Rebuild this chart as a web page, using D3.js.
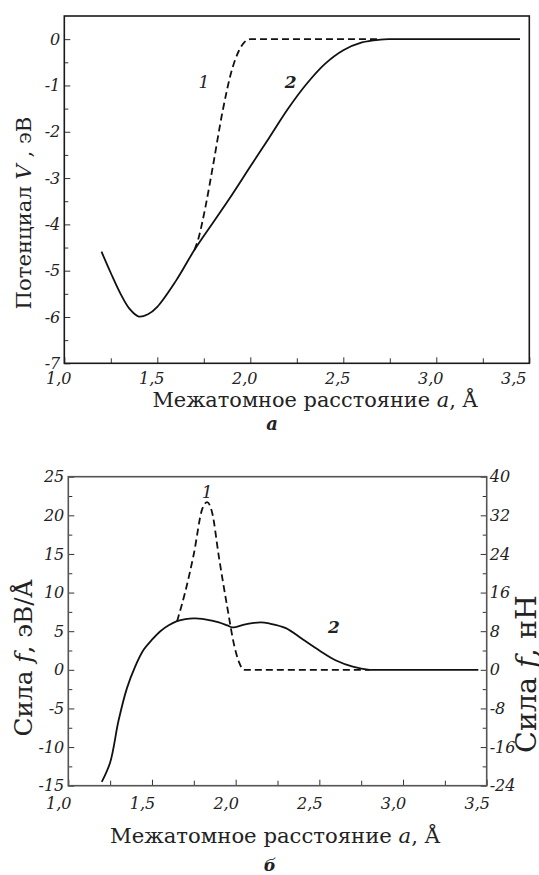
<!DOCTYPE html>
<html>
<head>
<meta charset="utf-8">
<script src="https://cdn.jsdelivr.net/npm/d3@7"></script>
<style>
  body { margin: 0; background: #fff; }
  svg { display: block; }
  text { font-family: "DejaVu Serif", "Liberation Serif", serif; }
  .tick text { font-family: "DejaVu Serif", serif; font-style: italic; font-size: 16px; fill: #222; }
  .tick line { stroke: #333; }
  .title { font-size: 18px; fill: #222; }
</style>
</head>
<body>
<svg id="chart" width="539" height="875"></svg>
<script>
// --- chart a: potential V(a)
const topA2 = [1.2, 1.25, 1.3, 1.35, 1.4, 1.45, 1.5, 1.6, 1.7, 1.8, 1.9, 2.0, 2.1, 2.2, 2.3, 2.4, 2.5, 2.6, 2.7, 2.75, 2.8, 3.0, 3.45];
const topV2 = [-4.59, -5.05, -5.48, -5.82, -5.99, -5.94, -5.78, -5.22, -4.55, -3.96, -3.37, -2.75, -2.14, -1.52, -0.98, -0.54, -0.24, -0.07, -0.01, 0, 0, 0, 0];
const topA1 = [1.7, 1.72, 1.76, 1.8, 1.85, 1.9, 1.94, 1.97, 2.0, 2.7];
const topV1 = [-4.55, -4.32, -3.6, -2.72, -1.58, -0.68, -0.24, -0.06, 0, 0];

// --- chart б: force f(a)
const botA2 = [1.2, 1.25, 1.3, 1.35, 1.4, 1.45, 1.5, 1.55, 1.6, 1.65, 1.7, 1.75, 1.8, 1.85, 1.9, 1.95, 1.98, 2.05, 2.1, 2.15, 2.2, 2.3, 2.4, 2.5, 2.6, 2.7, 2.8, 2.85, 3.45];
const botF2 = [-14.5, -12.0, -6.6, -2.4, 0.46, 2.6, 3.9, 5.0, 5.77, 6.3, 6.55, 6.65, 6.6, 6.4, 6.15, 5.75, 5.5, 5.85, 6.05, 6.15, 6.0, 5.4, 3.95, 2.5, 1.2, 0.4, 0, 0, 0];
const botA1 = [1.65, 1.7, 1.75, 1.8, 1.83, 1.86, 1.9, 1.95, 1.99, 2.02, 2.05, 2.8];
const botF1 = [6.3, 10.2, 15.0, 20.8, 21.7, 20.3, 14.6, 8.1, 3.3, 1.0, 0, 0];

const xTicks = [1.0, 1.5, 2.0, 2.5, 3.0, 3.5];
const xMinor = [1.25, 1.75, 2.25, 2.75, 3.25];
const topYTicks = [-7, -6, -5, -4, -3, -2, -1, 0];
const botYTicks = [-15, -10, -5, 0, 5, 10, 15, 20, 25];
const botY2Ticks = [-24, -16, -8, 0, 8, 16, 24, 32, 40];

const svg = d3.select('#chart');
const fmt = d => d3.format('.1f')(d).replace('.', ',');
const fmtInt = d => String(d);

function zip(a, b) { return a.map((v, i) => [v, b[i]]); }

function frame(g, w, h, color) {
  g.append('rect')
    .attr('width', w).attr('height', h)
    .attr('fill', 'none').attr('stroke', color).attr('stroke-width', 1.6);
}

function curve(g, x, y, pts, dashed) {
  const line = d3.line().x(d => x(d[0])).y(d => y(d[1]))
    .curve(dashed ? d3.curveMonotoneX : d3.curveCatmullRom.alpha(0.5));
  g.append('path')
    .datum(pts)
    .attr('d', line)
    .attr('fill', 'none')
    .attr('stroke', '#111')
    .attr('stroke-width', 1.8)
    .attr('stroke-dasharray', dashed ? '7,4' : null);
}

function addAxis(g, axis, transform) {
  const a = g.append('g').attr('transform', transform || null).call(axis);
  a.select('.domain').remove();
  return a;
}

// scale font so the text spans the width seen in the reference
function fit(sel, target) {
  const w = sel.node().getComputedTextLength();
  const fs = parseFloat(getComputedStyle(sel.node()).fontSize);
  sel.style('font-size', (fs * target / w).toFixed(2) + 'px');
}

function numLabel(g, x, y, txt, bold) {
  g.append('text').attr('x', x).attr('y', y)
    .attr('text-anchor', 'middle')
    .attr('font-style', 'italic').attr('font-size', 17).attr('fill', '#222')
    .attr('font-weight', bold ? 'bold' : null)
    .text(txt);
}

// ===== Chart a =====
{
  const left = 64.3, top = 16, width = 465, height = 347.3;
  const g = svg.append('g').attr('transform', `translate(${left},${top})`);
  const x = d3.scaleLinear().domain([1, 3.5]).range([0, width]);
  const y = d3.scaleLinear().domain([-7, 0.5]).range([height, 0]);

  const xa = addAxis(g, d3.axisBottom(x).tickValues(xTicks).tickSize(-6).tickPadding(9).tickFormat(fmt), `translate(0,${height})`);
  xa.selectAll('.tick text').attr('dx', d => d === 3.5 ? -16 : -6);
  addAxis(g, d3.axisBottom(x).tickValues(xMinor).tickSize(-5).tickFormat(''), `translate(0,${height})`);
  addAxis(g, d3.axisLeft(y).tickValues(topYTicks).tickSize(-6).tickPadding(4).tickFormat(fmtInt));
  addAxis(g, d3.axisLeft(y).tickValues(d3.range(-6.5, 0, 1)).tickSize(-4).tickFormat(''));

  frame(g, width, height, '#1a1a1a');

  curve(g, x, y, zip(topA1, topV1), true);
  curve(g, x, y, zip(topA2, topV2), false);

  numLabel(g, x(1.75), y(-1.05), '1', false);
  numLabel(g, x(2.217), y(-1.05), '2', true);

  const t1 = svg.append('text').attr('class', 'title')
    .attr('x', 315).attr('y', 407)
    .attr('text-anchor', 'middle')
    .html('Межатомное расстояние <tspan font-style="italic">a</tspan>, Å');
  fit(t1, 325);
  const t2 = svg.append('text').attr('class', 'title')
    .attr('transform', `translate(31,213) rotate(-90)`)
    .attr('text-anchor', 'middle')
    .html('Потенциал <tspan font-style="italic">V</tspan> , эВ');
  fit(t2, 193);
  svg.append('text')
    .attr('x', 272).attr('y', 430).attr('text-anchor', 'middle')
    .attr('font-style', 'italic').attr('font-weight', 'bold').attr('font-size', 18).attr('fill', '#222')
    .text('а');
}

// ===== Chart б =====
{
  const left = 68.3, top = 476.7, width = 418.4, height = 309;
  const g = svg.append('g').attr('transform', `translate(${left},${top})`);
  const x = d3.scaleLinear().domain([1, 3.5]).range([0, width]);
  const y = d3.scaleLinear().domain([-15, 25]).range([height, 0]);
  const y2 = d3.scaleLinear().domain([-24, 40]).range([height, 0]);

  const xa = addAxis(g, d3.axisBottom(x).tickValues(xTicks).tickSize(-6).tickPadding(12).tickFormat(fmt), `translate(0,${height})`);
  xa.selectAll('.tick text').attr('dx', -10);
  addAxis(g, d3.axisBottom(x).tickValues(xMinor).tickSize(-5).tickFormat(''), `translate(0,${height})`);
  addAxis(g, d3.axisLeft(y).tickValues(botYTicks).tickSize(-6).tickPadding(4).tickFormat(fmtInt));
  addAxis(g, d3.axisLeft(y).tickValues(d3.range(-12.5, 25, 5)).tickSize(-4).tickFormat(''));
  addAxis(g, d3.axisRight(y2).tickValues(botY2Ticks).tickSize(-6).tickPadding(3).tickFormat(fmtInt), `translate(${width},0)`);
  addAxis(g, d3.axisRight(y2).tickValues(d3.range(-20, 40, 8)).tickSize(-4).tickFormat(''), `translate(${width},0)`);

  frame(g, width, height, '#555');

  curve(g, x, y, zip(botA1, botF1), true);
  curve(g, x, y, zip(botA2, botF2), false);

  numLabel(g, x(1.83), y(22.3), '1', false);
  numLabel(g, x(2.587), y(4.8), '2', true);

  const t1 = svg.append('text').attr('class', 'title')
    .attr('x', 275).attr('y', 843)
    .attr('text-anchor', 'middle')
    .html('Межатомное расстояние <tspan font-style="italic">a</tspan>, Å');
  fit(t1, 330);
  const t2 = svg.append('text').attr('class', 'title')
    .attr('transform', `translate(32,658) rotate(-90)`)
    .attr('text-anchor', 'middle')
    .html('Сила <tspan font-style="italic">f</tspan>, эВ/Å');
  fit(t2, 157);
  const t3 = svg.append('text').attr('class', 'title')
    .attr('transform', `translate(536,674) rotate(-90)`)
    .attr('text-anchor', 'middle')
    .html('Сила <tspan font-style="italic">f</tspan>, нН');
  fit(t3, 158);
  svg.append('text')
    .attr('x', 270).attr('y', 871).attr('text-anchor', 'middle')
    .attr('font-style', 'italic').attr('font-weight', 'bold').attr('font-size', 17).attr('fill', '#222')
    .text('б');
}
</script>
</body>
</html>
